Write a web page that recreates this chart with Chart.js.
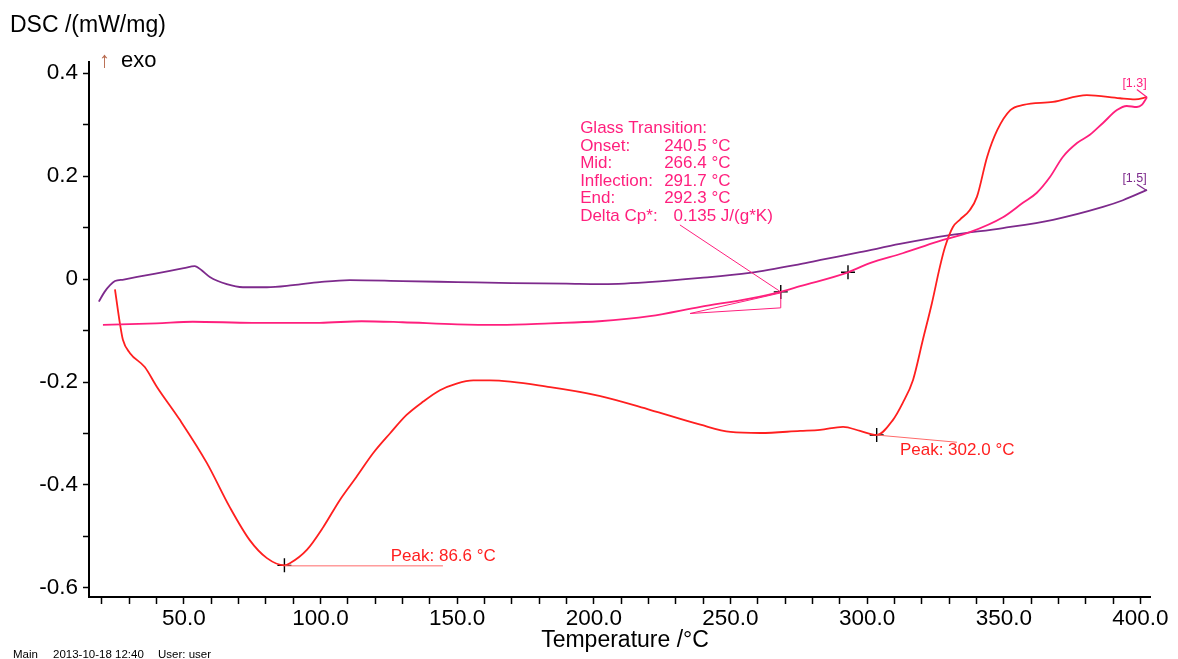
<!DOCTYPE html>
<html>
<head>
<meta charset="utf-8">
<script src="https://cdn.jsdelivr.net/npm/chart.js@4.4.1/dist/chart.umd.min.js"></script>
<style>
  html, body { margin: 0; padding: 0; background: #fff; }
</style>
</head>
<body>
<canvas id="dsc" width="1178" height="659"></canvas>
<script>
// run [1.3], first heating (red)
var redTemp = [24.8, 26.6, 27.7, 30.3, 35.7, 40.1, 48.6, 58.4, 66.8, 74.1, 80.4, 86.8, 88.8, 95.0, 101.1, 107.1, 113.2, 119.3, 125.4, 131.5, 137.6, 143.7, 149.8, 155.9, 162.0, 184.0, 202.0, 220.5, 239.0, 250.0, 261.0, 275.5, 282.8, 291.2, 297.4, 303.5, 309.4, 313.0, 316.8, 320.4, 323.7, 326.6, 328.5, 331.4, 333.9, 337.6, 340.2, 343.9, 347.6, 352.4, 357.2, 368.0, 380.4, 392.5, 398.0, 402.4];
var redDsc = [-0.020, -0.086, -0.118, -0.144, -0.171, -0.209, -0.274, -0.357, -0.443, -0.507, -0.542, -0.556, -0.552, -0.526, -0.481, -0.429, -0.384, -0.338, -0.300, -0.264, -0.238, -0.216, -0.203, -0.197, -0.197, -0.210, -0.227, -0.254, -0.283, -0.297, -0.299, -0.295, -0.293, -0.287, -0.295, -0.303, -0.274, -0.241, -0.196, -0.118, -0.047, 0.023, 0.062, 0.101, 0.115, 0.134, 0.160, 0.237, 0.289, 0.328, 0.338, 0.344, 0.357, 0.351, 0.349, 0.353];

// run [1.3], glass transition segment (pink)
var pinkTemp = [20.4, 40.0, 53.3, 75.0, 99.7, 115.0, 130.0, 150.0, 165.6, 184.0, 202.0, 220.5, 239.0, 257.0, 268.4, 275.5, 293.0, 301.0, 313.0, 325.5, 337.6, 349.7, 357.0, 362.0, 366.9, 371.6, 376.8, 381.5, 386.3, 391.4, 395.0, 398.7, 400.5, 402.4];
var pinkDsc = [-0.089, -0.086, -0.083, -0.085, -0.085, -0.082, -0.084, -0.088, -0.089, -0.086, -0.082, -0.072, -0.054, -0.038, -0.025, -0.014, 0.013, 0.031, 0.050, 0.072, 0.091, 0.120, 0.148, 0.167, 0.198, 0.237, 0.264, 0.280, 0.303, 0.328, 0.336, 0.334, 0.338, 0.353];

// run [1.5] (purple)
var purpleTemp = [18.9, 21.0, 23.0, 24.8, 28.0, 35.0, 44.9, 50.0, 54.0, 56.5, 59.5, 65.7, 71.6, 80.4, 89.9, 99.7, 110.7, 130.0, 150.0, 170.0, 190.0, 202.0, 220.0, 239.0, 257.0, 275.5, 283.0, 297.4, 312.0, 330.3, 349.7, 368.0, 386.3, 393.6, 402.4];
var purpleDsc = [-0.044, -0.025, -0.012, -0.004, -0.001, 0.006, 0.016, 0.021, 0.025, 0.017, 0.004, -0.010, -0.016, -0.016, -0.012, -0.006, -0.002, -0.004, -0.006, -0.008, -0.009, -0.010, -0.006, 0.002, 0.012, 0.029, 0.037, 0.052, 0.068, 0.085, 0.099, 0.115, 0.140, 0.153, 0.173];

// evaluation crosses: mid, inflection, peak 1, peak 2
var markTemp = [268.4, 293.0, 86.8, 303.5];
var markDsc = [-0.025, 0.013, -0.556, -0.303];

var xTickValues = [20, 30, 40, 50, 60, 70, 80, 90, 100, 110, 120, 130, 140, 150, 160, 170, 180, 190, 200, 210, 220, 230, 240, 250, 260, 270, 280, 290, 300, 310, 320, 330, 340, 350, 360, 370, 380, 390, 400];
var xTickLabels = { 50: "50.0", 100: "100.0", 150: "150.0", 200: "200.0", 250: "250.0", 300: "300.0", 350: "350.0", 400: "400.0" };
var yTickValues = [-0.6, -0.5, -0.4, -0.3, -0.2, -0.1, 0, 0.1, 0.2, 0.3, 0.4];
var yTickLabels = { "-0.6": "-0.6", "-0.4": "-0.4", "-0.2": "-0.2", "0": "0", "0.2": "0.2", "0.4": "0.4" };

var glassLines = [
  ["Glass Transition:", ""],
  ["Onset:", "240.5 \u00b0C"],
  ["Mid:", "266.4 \u00b0C"],
  ["Inflection:", "291.7 \u00b0C"],
  ["End:", "292.3 \u00b0C"],
  ["Delta Cp*:", "  0.135 J/(g*K)"]
];

var RED = "#ff1f1f";
var PINK = "#ff1f7d";
var PURPLE = "#7d2a8c";
var FONT = "'Liberation Sans', Arial, sans-serif";

function pts(xs, ys) {
  return xs.map(function (x, i) { return { x: x, y: ys[i] }; });
}

function curve(data, color) {
  return {
    data: data,
    borderColor: color,
    backgroundColor: color,
    borderWidth: 1.8,
    pointRadius: 0,
    cubicInterpolationMode: "monotone",
    fill: false
  };
}

// text and evaluation lines drawn on top, placed through the scales
var annotations = {
  id: "annotations",
  afterDatasetsDraw: function (chart) {
    var ctx = chart.ctx;
    var sx = chart.scales.x, sy = chart.scales.y;
    function X(t) { return sx.getPixelForValue(t); }
    function Y(v) { return sy.getPixelForValue(v); }
    function line(points, color, width) {
      ctx.beginPath();
      points.forEach(function (p, i) {
        if (i === 0) ctx.moveTo(X(p[0]), Y(p[1]));
        else ctx.lineTo(X(p[0]), Y(p[1]));
      });
      ctx.strokeStyle = color;
      ctx.lineWidth = width;
      ctx.stroke();
    }
    ctx.save();
    ctx.textBaseline = "alphabetic";
    ctx.textAlign = "left";

    // glass transition evaluation
    line([[268.4, -0.027], [268.4, -0.056], [235.2, -0.067], [268.4, -0.027]], PINK, 1);
    line([[231.5, 0.105], [268.4, -0.025]], PINK, 1);
    ctx.font = "17px " + FONT;
    ctx.fillStyle = PINK;
    var gx = X(195.0), gy = Y(0.2835);
    glassLines.forEach(function (row, i) {
      ctx.fillText(row[0], gx, gy + i * 17.6);
      ctx.fillText(row[1], gx + 84, gy + i * 17.6);
    });

    // peaks
    line([[86.8, -0.557], [144.8, -0.557]], "#ff6a6a", 1);
    line([[303.5, -0.303], [332.9, -0.317]], "#ff6a6a", 1);
    ctx.fillStyle = RED;
    ctx.fillText("Peak: 86.6 \u00b0C", X(125.7), Y(-0.547));
    ctx.fillText("Peak: 302.0 \u00b0C", X(312.0), Y(-0.3417));

    // curve end labels
    ctx.font = "12.5px " + FONT;
    ctx.fillStyle = PINK;
    ctx.fillText("[1.3]", X(393.4), Y(0.372));
    line([[398.7, 0.368], [402.4, 0.353]], PINK, 1.2);
    ctx.fillStyle = PURPLE;
    ctx.fillText("[1.5]", X(393.4), Y(0.189));
    line([[398.7, 0.184], [402.0, 0.173]], PURPLE, 1.2);

    // axis titles and footer
    ctx.fillStyle = "#000";
    ctx.font = "23px " + FONT;
    ctx.fillText("DSC /(mW/mg)", 10, 32);
    ctx.font = "22px " + FONT;
    ctx.fillStyle = "#b86a4e";
    ctx.fillText("\u2191", 99, 67);
    ctx.fillStyle = "#000";
    ctx.fillText("exo", 121, 67);
    ctx.font = "23px " + FONT;
    ctx.textAlign = "center";
    ctx.fillText("Temperature /\u00b0C", 625, 647);
    ctx.textAlign = "left";
    ctx.font = "11.5px " + FONT;
    ctx.fillText("Main", 13, 658);
    ctx.fillText("2013-10-18 12:40", 53, 658);
    ctx.fillText("User: user", 158, 658);
    ctx.restore();
  }
};

new Chart(document.getElementById("dsc").getContext("2d"), {
  type: "line",
  data: {
    datasets: [
      curve(pts(pinkTemp, pinkDsc), PINK),
      curve(pts(redTemp, redDsc), RED),
      curve(pts(purpleTemp, purpleDsc), PURPLE),
      {
        type: "scatter",
        data: pts(markTemp, markDsc),
        pointStyle: "cross",
        pointRadius: 7,
        borderColor: "#000",
        borderWidth: 1.4,
        showLine: false
      }
    ]
  },
  options: {
    responsive: false,
    animation: false,
    devicePixelRatio: 1,
    layout: { padding: { top: 62, right: 28, left: 0, bottom: 0 } },
    plugins: { legend: { display: false }, tooltip: { enabled: false } },
    scales: {
      x: {
        type: "linear",
        min: 15.3,
        max: 403.5,
        afterFit: function (scale) { scale.height = 62; },
        afterBuildTicks: function (scale) {
          scale.ticks = xTickValues.map(function (v) { return { value: v }; });
        },
        ticks: {
          autoSkip: false,
          maxRotation: 0,
          padding: 1,
          color: "#000",
          font: { family: FONT, size: 22.5 },
          callback: function (value) { return xTickLabels[value] || ""; }
        },
        grid: { drawOnChartArea: false, drawTicks: true, tickLength: 7, tickWidth: 1.5, tickColor: "#000" },
        border: { display: true, color: "#000", width: 2 }
      },
      y: {
        type: "linear",
        min: -0.6175,
        max: 0.4214,
        afterFit: function (scale) { scale.width = 89; },
        afterBuildTicks: function (scale) {
          scale.ticks = yTickValues.map(function (v) { return { value: v }; });
        },
        ticks: {
          autoSkip: false,
          padding: 5,
          color: "#000",
          font: { family: FONT, size: 22.5 },
          callback: function (value) {
            var key = String(Math.round(value * 10) / 10);
            return yTickLabels[key] || "";
          }
        },
        grid: { drawOnChartArea: false, drawTicks: true, tickLength: 6, tickWidth: 1.5, tickColor: "#000" },
        border: { display: true, color: "#000", width: 2 }
      }
    }
  },
  plugins: [annotations]
});
</script>
</body>
</html>
